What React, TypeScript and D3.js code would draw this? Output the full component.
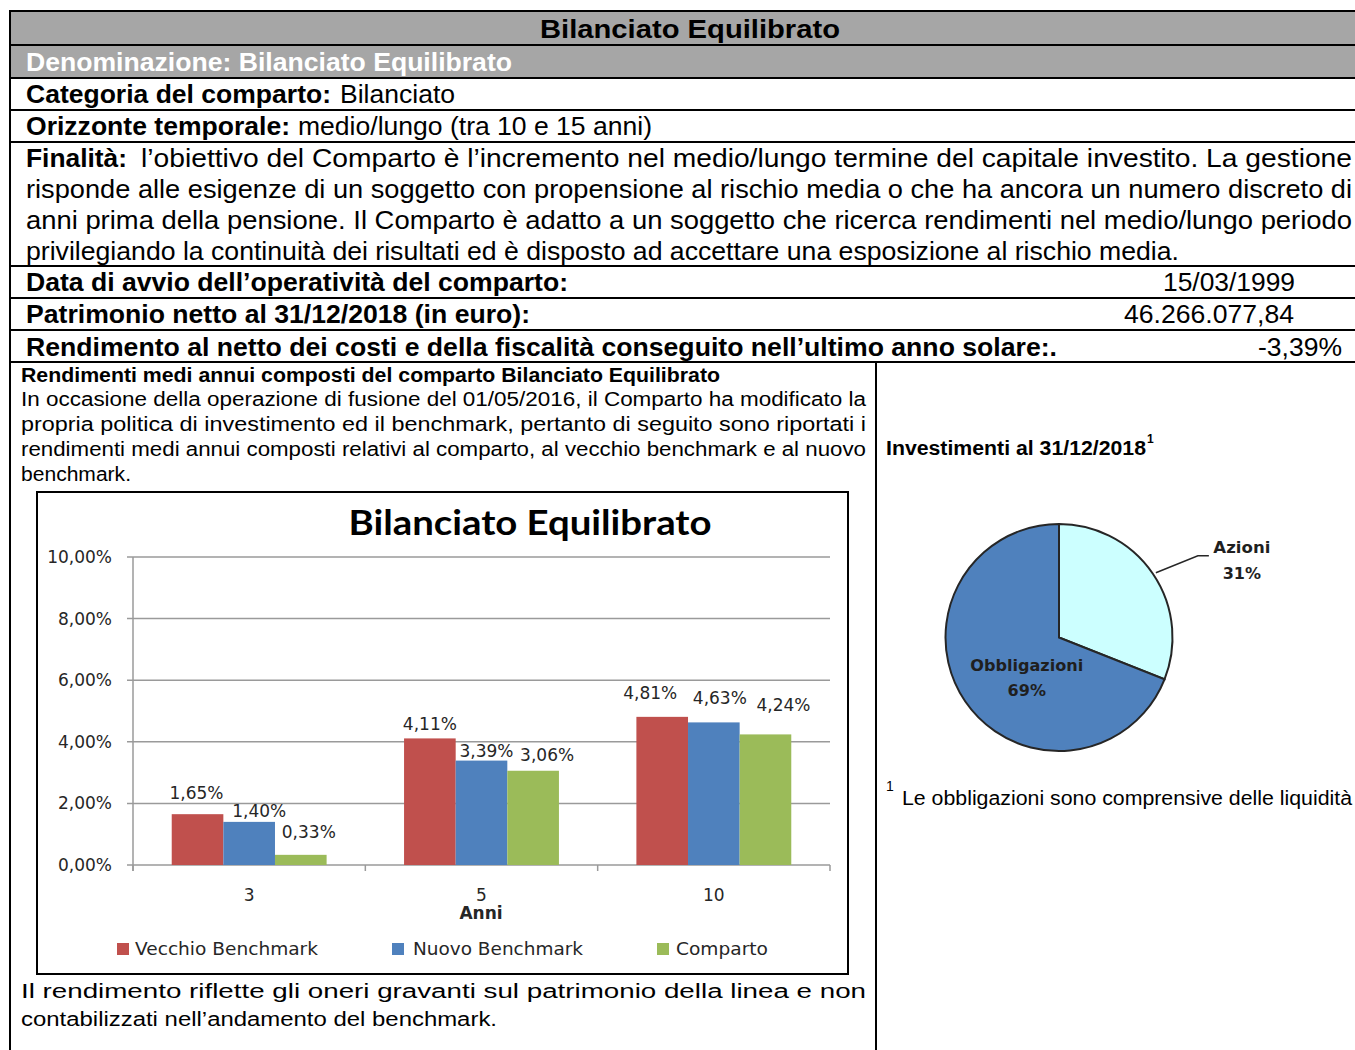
import React from "react";
import * as d3 from "d3";

// ---------- data ----------
const categories = ["3", "5", "10"];
const seriesNames = ["Vecchio Benchmark", "Nuovo Benchmark", "Comparto"];
const vecchioBenchmark = [1.65, 4.11, 4.81];
const nuovoBenchmark = [1.4, 3.39, 4.63];
const comparto = [0.33, 3.06, 4.24];
const yTicks = [0, 2, 4, 6, 8, 10];
const pieLabels = ["Azioni", "Obbligazioni"];
const pieValues = [31, 69];

// label nudges (style, relative to bar top)
const labelNudges = [
  [[-1, -21], [0, -14], [-12, -24]],
  [[10, -11], [5, -10], [6, -24]],
  [[8, -23], [14, -16], [18, -29]],
];

const seriesColors = ["#C0504D", "#4F81BD", "#9BBB59"];
const pieColors = ["#CCFFFF", "#4F81BD"];

const ARIAL = "'Liberation Sans', Arial, sans-serif";
const CHART = "'DejaVu Sans', Verdana, sans-serif";
const TITLEF = "Lato, 'DejaVu Sans', sans-serif";

const W = 1355;
const H = 1050;

type TP = {
  x: number;
  y: number;
  len?: number;
  size?: number;
  bold?: boolean;
  fill?: string;
  family?: string;
  anchor?: "start" | "middle" | "end";
  children: React.ReactNode;
};

function T({ x, y, len, size = 26, bold, fill = "#000", family = ARIAL, anchor = "start", children }: TP) {
  return (
    <text
      x={x}
      y={y}
      fontSize={size}
      fontFamily={family}
      fontWeight={bold ? "bold" : "normal"}
      fill={fill}
      textAnchor={anchor}
      textLength={len}
      lengthAdjust={len ? "spacingAndGlyphs" : undefined}
    >
      {children}
    </text>
  );
}

const fmt = (v: number, d: number) => v.toFixed(d).replace(".", ",") + "%";

function BarChart() {
  const series = [vecchioBenchmark, nuovoBenchmark, comparto];
  const plotL = 133;
  const plotR = 830;
  const x0 = d3.scaleBand<string>().domain(categories).range([plotL, plotR]).padding(0);
  const x1 = d3
    .scaleBand<string>()
    .domain(seriesNames)
    .range([0, x0.bandwidth()])
    .paddingInner(0)
    .paddingOuter(0.75);
  const y = d3.scaleLinear().domain([0, 10]).range([865, 557]);
  const grid = "#9a9a9a";
  const txt = "#262626";

  return (
    <g>
      <rect x={37} y={492} width={811} height={482} fill="#fff" stroke="#000" strokeWidth={2} />
      <T x={530} y={535} len={363} size={34} bold family={TITLEF} anchor="middle">
        Bilanciato Equilibrato
      </T>
      {yTicks.map((t) => (
        <g key={t}>
          <line x1={plotL - 6} x2={plotR} y1={y(t)} y2={y(t)} stroke={grid} strokeWidth={1.5} />
          <T x={112} y={y(t) + 6} size={17} family={CHART} fill={txt} anchor="end">
            {fmt(t, 2)}
          </T>
        </g>
      ))}
      <line x1={plotL} x2={plotL} y1={y(10)} y2={y(0) + 6} stroke={grid} strokeWidth={1.5} />
      {[...categories.map((c) => x0(c)!), plotR].map((xx, i) => (
        <line key={i} x1={xx} x2={xx} y1={y(0)} y2={y(0) + 6} stroke={grid} strokeWidth={1.5} />
      ))}
      {series.map((vals, si) =>
        vals.map((v, ci) => {
          const bx = x0(categories[ci])! + x1(seriesNames[si])!;
          return (
            <rect
              key={`${si}-${ci}`}
              x={bx}
              y={y(v)}
              width={x1.bandwidth()}
              height={y(0) - y(v)}
              fill={seriesColors[si]}
            />
          );
        })
      )}
      {series.map((vals, si) =>
        vals.map((v, ci) => {
          const cx = x0(categories[ci])! + x1(seriesNames[si])! + x1.bandwidth() / 2;
          const [dx, dy] = labelNudges[si][ci];
          return (
            <T
              key={`l${si}-${ci}`}
              x={cx + dx}
              y={y(v) + dy + 6}
              size={17}
              family={CHART}
              fill={txt}
              anchor="middle"
            >
              {fmt(v, 2)}
            </T>
          );
        })
      )}
      {categories.map((c) => (
        <T key={c} x={x0(c)! + x0.bandwidth() / 2} y={901} size={17} family={CHART} fill={txt} anchor="middle">
          {c}
        </T>
      ))}
      <T x={481} y={919} size={17} bold family={CHART} fill={txt} anchor="middle">
        Anni
      </T>
      {/* legend */}
      {[
        { sx: 117, tx: 135, len: 183 },
        { sx: 392, tx: 413, len: 170 },
        { sx: 657, tx: 676, len: 92 },
      ].map((l, i) => (
        <g key={i}>
          <rect x={l.sx} y={943} width={12} height={12} fill={seriesColors[i]} />
          <T x={l.tx} y={955} len={l.len} size={17} family={CHART} fill={txt}>
            {seriesNames[i]}
          </T>
        </g>
      ))}
    </g>
  );
}

function PieChart() {
  const cx = 1059;
  const cy = 637.5;
  const r = 113.5;
  const arcs = d3
    .pie<number>()
    .sort(null)
    .startAngle(0)
    .endAngle(2 * Math.PI)(pieValues);
  const arc = d3.arc<d3.PieArcDatum<number>>().innerRadius(0).outerRadius(r);
  const inner = d3.arc<d3.PieArcDatum<number>>().innerRadius(r * 0.45).outerRadius(r * 0.45);
  const outer = d3.arc<d3.PieArcDatum<number>>().innerRadius(r).outerRadius(r);
  const az = arcs[0];
  const ob = arcs[1];
  const [ax, ay] = outer.centroid(az);
  const [ox, oy] = inner.centroid(ob);
  const lc = "#1f1f1f";
  return (
    <g transform={`translate(${cx},${cy})`}>
      {arcs.map((a, i) => (
        <path key={i} d={arc(a)!} fill={pieColors[i]} stroke="#262626" strokeWidth={2} />
      ))}
      <polyline
        points={`${ax + 3},${ay - 1} ${ax + 45},${ay - 18} ${ax + 56},${ay - 18}`}
        fill="none"
        stroke="#262626"
        strokeWidth={1.5}
      />
      <T x={ax + 89} y={ay - 21} len={57} size={16} bold family={CHART} fill={lc} anchor="middle">
        {pieLabels[0]}
      </T>
      <T x={ax + 89} y={ay + 5} size={16} bold family={CHART} fill={lc} anchor="middle">
        {pieValues[0] + "%"}
      </T>
      <T x={ox + 10} y={oy + 5} len={113} size={16} bold family={CHART} fill={lc} anchor="middle">
        {pieLabels[1]}
      </T>
      <T x={ox + 10} y={oy + 30} size={16} bold family={CHART} fill={lc} anchor="middle">
        {pieValues[1] + "%"}
      </T>
    </g>
  );
}

export default function App() {
  const hLines = [11, 45, 78, 110, 142, 266, 298, 330, 362];
  return (
    <svg
      width={W}
      height={H}
      viewBox={`0 0 ${W} ${H}`}
      style={{ position: "absolute", left: 0, top: 0, background: "#fff" }}
    >
      <rect x={0} y={0} width={W} height={H} fill="#fff" />
      <rect x={10} y={11} width={W - 10} height={67} fill="#a6a6a6" />
      {hLines.map((yy) => (
        <line key={yy} x1={10} x2={W} y1={yy} y2={yy} stroke="#000" strokeWidth={2} />
      ))}
      <line x1={10} x2={10} y1={10} y2={H} stroke="#000" strokeWidth={2} />
      <line x1={876} x2={876} y1={362} y2={H} stroke="#000" strokeWidth={2} />

      <T x={690} y={38} len={300} bold anchor="middle">Bilanciato Equilibrato</T>
      <T x={26} y={71} len={486} bold fill="#fff">Denominazione: Bilanciato Equilibrato</T>
      <T x={26} y={103} len={305} bold>Categoria del comparto:</T>
      <T x={340} y={103} len={115}>Bilanciato</T>
      <T x={26} y={135} len={264} bold>Orizzonte temporale:</T>
      <T x={298} y={135} len={354}>medio/lungo (tra 10 e 15 anni)</T>
      <T x={26} y={167} len={101} bold>Finalità:</T>
      <T x={141} y={167} len={1211}>l’obiettivo del Comparto è l’incremento nel medio/lungo termine del capitale investito. La gestione</T>
      <T x={26} y={198} len={1326}>risponde alle esigenze di un soggetto con propensione al rischio media o che ha ancora un numero discreto di</T>
      <T x={26} y={229} len={1326}>anni prima della pensione. Il Comparto è adatto a un soggetto che ricerca rendimenti nel medio/lungo periodo</T>
      <T x={26} y={260} len={1153}>privilegiando la continuità dei risultati ed è disposto ad accettare una esposizione al rischio media.</T>
      <T x={26} y={291} len={542} bold>Data di avvio dell’operatività del comparto:</T>
      <T x={1163} y={291} len={132}>15/03/1999</T>
      <T x={26} y={323} len={504} bold>Patrimonio netto al 31/12/2018 (in euro):</T>
      <T x={1124} y={323} len={170}>46.266.077,84</T>
      <T x={26} y={356} len={1031} bold>Rendimento al netto dei costi e della fiscalità conseguito nell’ultimo anno solare:.</T>
      <T x={1258} y={356} len={84}>-3,39%</T>

      <T x={21} y={382} len={699} size={20} bold>Rendimenti medi annui composti del comparto Bilanciato Equilibrato</T>
      <T x={21} y={406} len={845} size={20}>In occasione della operazione di fusione del 01/05/2016, il Comparto ha modificato la</T>
      <T x={21} y={431} len={845} size={20}>propria politica di investimento ed il benchmark, pertanto di seguito sono riportati i</T>
      <T x={21} y={456} len={845} size={20}>rendimenti medi annui composti relativi al comparto, al vecchio benchmark e al nuovo</T>
      <T x={21} y={481} len={110} size={20}>benchmark.</T>

      <BarChart />

      <T x={21} y={998} len={845} size={20}>Il rendimento riflette gli oneri gravanti sul patrimonio della linea e non</T>
      <T x={21} y={1026} len={476} size={20}>contabilizzati nell’andamento del benchmark.</T>

      <T x={886} y={455} len={260} size={20} bold>Investimenti al 31/12/2018</T>
      <T x={1147} y={443} size={12} bold>1</T>
      <PieChart />
      <T x={886} y={791} size={14}>1</T>
      <T x={902} y={805} len={450} size={20}>Le obbligazioni sono comprensive delle liquidità</T>
    </svg>
  );
}
